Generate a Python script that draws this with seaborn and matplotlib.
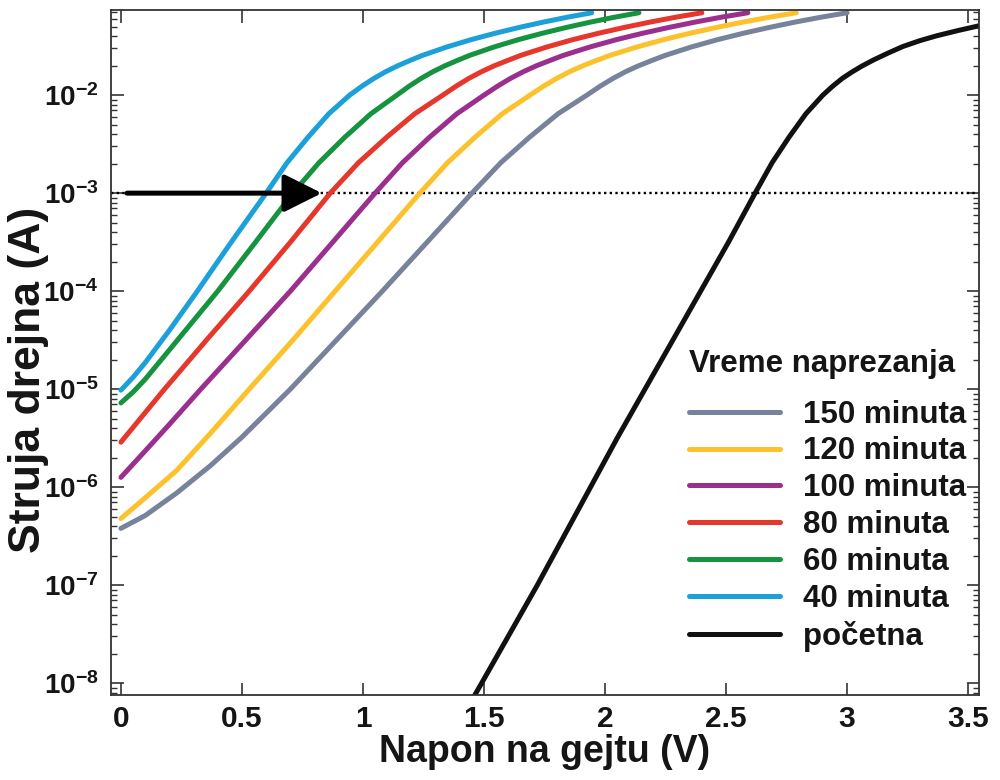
import numpy as np
import pandas as pd
import matplotlib
matplotlib.use('Agg')
import matplotlib.pyplot as plt
import matplotlib.ticker as mticker
import seaborn as sns

# napon na gejtu (V) i struja drejna (A), ocitano sa slike
# donji deo krivih (do 1 mA)
x_40_d = [0.00, 0.05, 0.10, 0.20, 0.31, 0.45, 0.60]
i_40_d = [9.77e-6, 1.32e-5, 1.86e-5, 3.98e-5, 9.55e-5, 3.02e-4, 1.0e-3]
x_60_d = [0.00, 0.05, 0.10, 0.20, 0.30, 0.40, 0.55, 0.71]
i_60_d = [7.24e-6, 9.33e-6, 1.26e-5, 2.51e-5, 5.01e-5, 1.0e-4, 3.02e-4, 1.0e-3]
x_80_d = [0.00, 0.09, 0.18, 0.36, 0.53, 0.70, 0.865]
i_80_d = [2.88e-6, 5.37e-6, 1.0e-5, 3.31e-5, 1.0e-4, 3.16e-4, 1.0e-3]
x_100_d = [0.00, 0.10, 0.20, 0.33, 0.515, 0.70, 0.875, 1.05]
i_100_d = [1.26e-6, 2.34e-6, 4.37e-6, 1.0e-5, 3.16e-5, 1.0e-4, 3.16e-4, 1.0e-3]
x_120_d = [0.00, 0.09, 0.23, 0.37, 0.53, 0.71, 0.885, 1.06, 1.235]
i_120_d = [4.79e-7, 7.41e-7, 1.48e-6, 3.55e-6, 1.0e-5, 3.16e-5, 1.0e-4, 3.16e-4, 1.0e-3]
x_150_d = [0.00, 0.10, 0.23, 0.37, 0.50, 0.70, 0.89, 1.08, 1.265, 1.45]
i_150_d = [3.80e-7, 5.13e-7, 8.71e-7, 1.66e-6, 3.24e-6, 1.0e-5, 3.16e-5, 1.0e-4, 3.16e-4, 1.0e-3]

# gornji deo: napon na kome kriva dostize date nivoe struje
i_gornji = [2.04e-3, 3.72e-3, 6.46e-3, 1.0e-2, 1.23e-2, 1.48e-2, 1.74e-2, 2.0e-2, 2.26e-2,
            2.54e-2, 3.09e-2, 3.67e-2, 4.27e-2, 4.9e-2, 5.56e-2, 6.24e-2, 6.92e-2]
x_40_g = [0.686, 0.773, 0.859, 0.945, 0.995, 1.045, 1.095, 1.145, 1.195,
          1.245, 1.345, 1.445, 1.545, 1.645, 1.745, 1.845, 1.945]
x_60_g = [0.818, 0.925, 1.033, 1.14, 1.19, 1.24, 1.29, 1.34, 1.39,
          1.44, 1.54, 1.64, 1.74, 1.84, 1.94, 2.04, 2.14]
x_80_g = [0.981, 1.098, 1.214, 1.33, 1.384, 1.437, 1.491, 1.544, 1.598,
          1.651, 1.758, 1.865, 1.972, 2.079, 2.186, 2.293, 2.40]
x_100_g = [1.163, 1.275, 1.388, 1.50, 1.555, 1.609, 1.664, 1.718, 1.773,
           1.827, 1.936, 2.045, 2.154, 2.263, 2.372, 2.481, 2.59]
x_120_g = [1.349, 1.463, 1.576, 1.69, 1.745, 1.80, 1.855, 1.91, 1.965,
           2.02, 2.13, 2.24, 2.35, 2.46, 2.57, 2.68, 2.79]
x_150_g = [1.569, 1.688, 1.806, 1.925, 1.979, 2.033, 2.086, 2.14, 2.194,
           2.248, 2.355, 2.463, 2.57, 2.678, 2.785, 2.893, 3.00]

# pocetna kriva
x_poc = [1.43, 1.49, 1.605, 1.72, 1.83, 1.94, 2.05, 2.165, 2.28, 2.395, 2.51, 2.62, 2.69, 2.76,
         2.83, 2.90, 2.94, 2.98, 3.02, 3.06, 3.11, 3.17, 3.23, 3.30, 3.37, 3.46, 3.55]
i_poc = [5.5e-9, 1.0e-8, 3.16e-8, 1.0e-7, 3.16e-7, 1.0e-6, 3.16e-6, 1.0e-5, 3.16e-5, 1.0e-4,
         3.16e-4, 1.0e-3, 2.04e-3, 3.72e-3, 6.46e-3, 1.0e-2, 1.23e-2, 1.48e-2, 1.72e-2, 1.97e-2,
         2.29e-2, 2.69e-2, 3.13e-2, 3.59e-2, 4.03e-2, 4.57e-2, 5.13e-2]

serije = ['150 minuta', '120 minuta', '100 minuta', '80 minuta', '60 minuta', '40 minuta', 'početna']
boje = ['#77839a', '#fcc22d', '#9a2f8e', '#e5372b', '#16933f', '#1ca0d9', '#111111']
podaci = [(x_150_d + x_150_g, i_150_d + i_gornji),
          (x_120_d + x_120_g, i_120_d + i_gornji),
          (x_100_d + x_100_g, i_100_d + i_gornji),
          (x_80_d + x_80_g, i_80_d + i_gornji),
          (x_60_d + x_60_g, i_60_d + i_gornji),
          (x_40_d + x_40_g, i_40_d + i_gornji),
          (x_poc, i_poc)]

frames = []
for ime, (xs, ys) in zip(serije, podaci):
    frames.append(pd.DataFrame({'napon': xs, 'struja': ys, 'serija': ime}))
df = pd.concat(frames, ignore_index=True)

sns.set_theme(style='ticks')
plt.rcParams['font.family'] = ['Liberation Sans', 'DejaVu Sans']
plt.rcParams['font.weight'] = 'bold'
plt.rcParams['mathtext.fontset'] = 'custom'
plt.rcParams['mathtext.bf'] = 'Liberation Sans:bold'
plt.rcParams['mathtext.rm'] = 'Liberation Sans:bold'
# tekst skoro crn kao na originalu
plt.rcParams['text.color'] = '#151515'
plt.rcParams['axes.labelcolor'] = '#151515'
plt.rcParams['xtick.labelcolor'] = '#151515'
plt.rcParams['ytick.labelcolor'] = '#151515'

fig = plt.figure(figsize=(10, 7.8), dpi=100)
ax = fig.add_axes([0.111, 0.109, 0.868, 0.878])

sns.lineplot(data=df, x='napon', y='struja', hue='serija', hue_order=serije,
             palette=dict(zip(serije, boje)), linewidth=3.6, estimator=None,
             sort=False, ax=ax)
for ln in ax.get_lines():
    ln.set_solid_joinstyle('round')

ax.set_yscale('log')
ax.set_xlim(-0.041, 3.545)
ax.set_ylim(10 ** -8.12, 10 ** -1.133)

# horizontalna tackasta linija i strelica na 1 mA
ax.axhline(1e-3, color='black', ls=(0, (1, 1.4)), lw=1.7, zorder=1)
ax.annotate('', xy=(0.83, 1e-3), xytext=(0.025, 1e-3),
            arrowprops=dict(arrowstyle='-|>,head_length=0.8,head_width=0.4',
                            lw=3.6, color='black', mutation_scale=29,
                            shrinkA=0, shrinkB=0))

ax.set_xticks([0, 0.5, 1, 1.5, 2, 2.5, 3, 3.5])
ax.xaxis.set_major_formatter(mticker.FuncFormatter(lambda v, p: f'{v:g}'))
dekade = [1e-8, 1e-7, 1e-6, 1e-5, 1e-4, 1e-3, 1e-2]
ax.yaxis.set_major_locator(mticker.FixedLocator(dekade))
ax.yaxis.set_minor_locator(mticker.FixedLocator(
    [m * d for d in [1e-9] + dekade for m in range(2, 10)]))
ax.yaxis.set_minor_formatter(mticker.NullFormatter())
ax.yaxis.set_major_formatter(mticker.FuncFormatter(
    lambda v, p: r'$\mathbf{10^{%d}}$' % int(round(np.log10(v)))))

ax.tick_params(which='both', direction='in', top=True, right=True, color='#333333')
ax.tick_params(which='major', length=9, width=1.2)
ax.tick_params(which='minor', length=4.5, width=1.0)
ax.tick_params(axis='x', labelsize=21.5, pad=7)
ax.tick_params(axis='y', labelsize=20, pad=9)
for lab in ax.get_xticklabels():
    lab.set_fontweight('bold')
for s in ax.spines.values():
    s.set_color('#333333')
    s.set_linewidth(1.3)

ax.set_xlabel('Napon na gejtu (V)', fontsize=27, fontweight='bold')
ax.xaxis.set_label_coords(0.5, -0.057)
ax.set_ylabel('Struja drejna (A)', fontsize=32, fontweight='bold')
ax.yaxis.set_label_coords(-0.072, 0.46)

handles, labels = ax.get_legend_handles_labels()
leg = ax.legend(handles, labels, title='Vreme naprezanja', loc='lower right',
                bbox_to_anchor=(0.985, 0.063), frameon=False,
                prop={'weight': 'bold', 'size': 22.5},
                title_fontproperties={'weight': 'bold', 'size': 22.5},
                alignment='left', handlelength=2.9, handletextpad=0.74,
                labelspacing=0.22, borderpad=0, borderaxespad=0)
leg._legend_box.sep = 15
for ln in leg.get_lines():
    ln.set_linewidth(3.6)

fig.savefig('out.png', dpi=100)
